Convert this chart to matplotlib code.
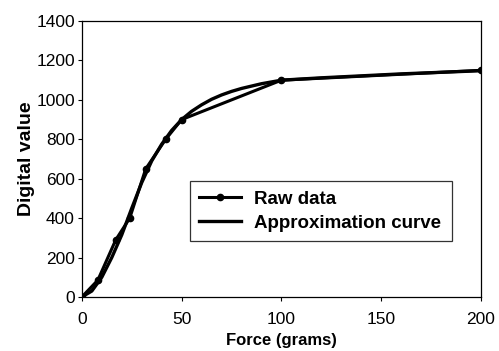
import numpy as np
import matplotlib.pyplot as plt

plt.rcParams['font.family'] = ['Liberation Sans', 'DejaVu Sans']

# Raw sensor readings
raw_force = [0, 8, 17, 24, 32, 42, 50, 100, 200]
raw_value = [0, 85, 290, 400, 650, 800, 900, 1100, 1150]

# Approximation curve
approx_force = [0, 5, 10, 15, 20, 25, 30, 35, 40, 45, 50, 55, 60, 65, 70, 75, 80, 90, 100, 120, 140, 160, 180, 200]
approx_value = [0, 30, 100, 200, 315, 450, 580, 690, 775, 845, 900, 942, 975, 1003, 1025, 1043, 1058, 1082, 1100, 1112, 1122, 1132, 1140, 1148]

fig = plt.figure(figsize=(4.99, 3.51), dpi=100)
ax = fig.add_axes([0.164, 0.154, 0.800, 0.786])

ax.plot(raw_force, raw_value, color='black', lw=2.2, marker='o', ms=4.5, label='Raw data')
ax.plot(approx_force, approx_value, color='black', lw=2.4, label='Approximation curve')

ax.set_xlim(0, 200)
ax.set_ylim(0, 1400)
ax.set_xticks([0, 50, 100, 150, 200])
ax.set_yticks(np.arange(0, 1401, 200))
ax.tick_params(direction='out', length=3, width=0.8, labelsize=12.5, pad=2)
ax.tick_params(axis='x', pad=8)
for s in ax.spines.values():
    s.set_linewidth(0.9)

ax.set_xlabel('Force (grams)', fontsize=12, fontweight='bold', labelpad=4)
ax.set_ylabel('Digital value', fontsize=14, fontweight='bold', labelpad=1)

leg = ax.legend(loc='lower left', bbox_to_anchor=(0.271, 0.203, 0.656, 0.254), mode='expand',
                prop={'weight': 'bold', 'size': 13.5}, frameon=True, fancybox=False,
                edgecolor='black', handlelength=2.2, handletextpad=0.7, borderaxespad=0,
                borderpad=0.5, labelspacing=0.35)
leg.get_frame().set_linewidth(0.9)

fig.savefig('out.png', dpi=100)
